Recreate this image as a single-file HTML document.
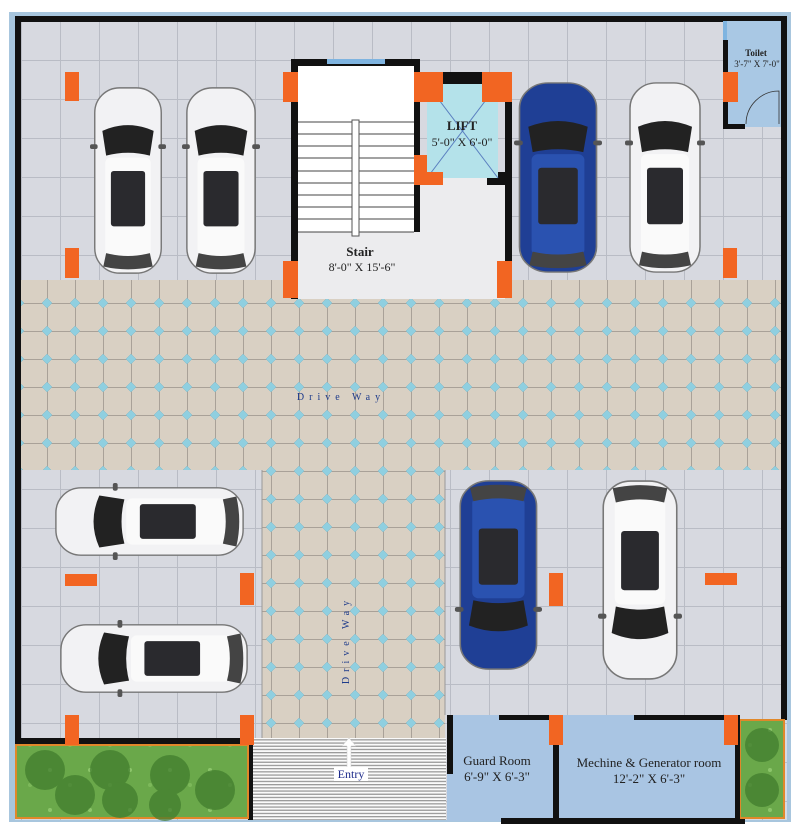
<!DOCTYPE html>
<html><head><meta charset="utf-8"><style>
html,body{margin:0;padding:0;background:#fff;}
svg{display:block;}
text{font-family:"Liberation Serif",serif;}
</style></head><body>
<svg width="800" height="834" viewBox="0 0 800 834" xmlns="http://www.w3.org/2000/svg">
<defs>
<pattern id="floor" x="21" y="21" width="39" height="39" patternUnits="userSpaceOnUse">
<rect width="39" height="39" fill="#d7d9e0"/>
<path d="M0 0.5H39M0.5 0V39" stroke="#b9bcc5" stroke-width="1"/>
</pattern>
<pattern id="oct" x="19" y="275" width="28" height="28" patternUnits="userSpaceOnUse">
<rect width="28" height="28" fill="#d9d0c3"/>
<path d="M0 0.5H28M0.5 0V28" stroke="#a9a198" stroke-width="1"/>
<path d="M0 -5L5 0L0 5L-5 0Z M28 -5L33 0L28 5L23 0Z M0 23L5 28L0 33L-5 28Z M28 23L33 28L28 33L23 28Z" fill="#8fcfe0" stroke="#7fb8c8" stroke-width="0.5"/>
</pattern>
<pattern id="stripes" x="0" y="0" width="4" height="3.2" patternUnits="userSpaceOnUse">
<rect width="4" height="3.2" fill="#fafafa"/>
<rect y="0" width="4" height="1.3" fill="#9a9a9a"/>
</pattern>
<pattern id="grass" width="40" height="40" patternUnits="userSpaceOnUse">
<rect width="40" height="40" fill="#6aa84a"/>
<circle cx="10" cy="10" r="2" fill="#8cc56a"/><circle cx="30" cy="25" r="2" fill="#7cb85a"/>
</pattern>
<symbol id="car" viewBox="0 0 80 200" preserveAspectRatio="none">
<rect x="5" y="3" width="70" height="194" rx="26" fill="var(--b)" stroke="#777" stroke-width="1.5"/>
<path d="M13 48 Q40 36 67 48 L63 74 Q40 68 17 74Z" fill="#222"/>
<rect x="16" y="76" width="48" height="104" rx="6" fill="var(--r)"/>
<rect x="22" y="90" width="36" height="58" rx="3" fill="#2a2a2e"/>
<path d="M17 176 Q40 182 63 176 L66 190 Q40 196 14 190Z" fill="#444"/>
<rect x="0" y="62" width="8" height="5" rx="2" fill="#555"/><rect x="72" y="62" width="8" height="5" rx="2" fill="#555"/>
</symbol>
</defs>

<!-- outer frame -->
<rect x="9" y="12" width="782" height="810" fill="#a8c6de"/>
<rect x="15" y="16" width="772" height="804" fill="url(#floor)"/>

<!-- drive ways -->
<rect x="21" y="280" width="760" height="190" fill="url(#oct)"/>
<rect x="262" y="470" width="183" height="268" fill="url(#oct)"/>
<line x1="262" y1="470" x2="262" y2="738" stroke="#999" stroke-width="1"/>
<line x1="445" y1="470" x2="445" y2="715" stroke="#999" stroke-width="1"/>

<!-- walls outer -->
<rect x="15" y="16" width="772" height="6" fill="#111"/>
<rect x="15" y="16" width="6" height="729" fill="#111"/>
<rect x="781" y="16" width="6" height="704" fill="#111"/>
<rect x="15" y="738" width="238" height="7" fill="#111"/>

<!-- stair -->
<rect x="291" y="59" width="129" height="240" fill="#111"/>
<rect x="298" y="66" width="116" height="233" fill="#fff"/>
<rect x="298" y="232" width="207" height="67" fill="#ececee"/>
<rect x="420" y="178" width="85" height="60" fill="#ececee"/>
<rect x="327" y="59" width="58" height="5" fill="#7fb4e0"/>
<g stroke="#444" stroke-width="1">
<line x1="298" y1="122" x2="414" y2="122"/><line x1="298" y1="134" x2="414" y2="134"/>
<line x1="298" y1="146" x2="414" y2="146"/><line x1="298" y1="158" x2="414" y2="158"/>
<line x1="298" y1="171" x2="414" y2="171"/><line x1="298" y1="183" x2="414" y2="183"/>
<line x1="298" y1="195" x2="414" y2="195"/><line x1="298" y1="207" x2="414" y2="207"/>
<line x1="298" y1="219" x2="414" y2="219"/><line x1="298" y1="232" x2="414" y2="232"/>
</g>
<rect x="352" y="120" width="7" height="116" fill="#fff" stroke="#555" stroke-width="1"/>
<text x="360" y="256" font-size="13" font-weight="bold" text-anchor="middle" fill="#222">Stair</text>
<text x="362" y="271" font-size="12" text-anchor="middle" fill="#222">8'-0" X 15'-6"</text>

<!-- lift -->
<rect x="414" y="72" width="98" height="12" fill="#111"/>
<rect x="505" y="72" width="7" height="190" fill="#111"/>
<rect x="487" y="172" width="20" height="13" fill="#111"/>
<rect x="427" y="84" width="71" height="94" fill="#b4e2ea"/>
<line x1="427" y1="84" x2="498" y2="178" stroke="#5a7fc0" stroke-width="1"/>
<line x1="498" y1="84" x2="427" y2="178" stroke="#5a7fc0" stroke-width="1"/>
<text x="462" y="130" font-size="13" font-weight="bold" text-anchor="middle" fill="#222">LIFT</text>
<text x="462" y="146" font-size="12" text-anchor="middle" fill="#222">5'-0" X 6'-0"</text>

<!-- toilet -->
<rect x="727" y="21" width="54" height="106" fill="#a9c8e4"/>
<rect x="723" y="40" width="5" height="89" fill="#111"/>
<rect x="723" y="21" width="4" height="19" fill="#7fb4e0"/>
<rect x="723" y="124" width="22" height="5" fill="#111"/>
<path d="M746 124 A33 33 0 0 1 779 91 L779 124" fill="none" stroke="#333" stroke-width="0.8"/>
<text x="756" y="56" font-size="9" font-weight="bold" text-anchor="middle" fill="#222">Toilet</text>
<text x="757" y="67" font-size="9" text-anchor="middle" fill="#222">3'-7" X 7'-0"</text>

<!-- cars -->
<use href="#car" x="90" y="85" width="76" height="191" style="--b:#f2f2f4;--r:#fafafa"/>
<use href="#car" x="182" y="85" width="78" height="191" style="--b:#f2f2f4;--r:#fafafa"/>
<use href="#car" x="514" y="80" width="88" height="195" style="--b:#1f3f95;--r:#2a52b0"/>
<use href="#car" x="625" y="80" width="80" height="195" style="--b:#f2f2f4;--r:#fafafa"/>
<use href="#car" width="80" height="200" transform="translate(53,560) rotate(-90) scale(0.9625,0.965)" style="--b:#f2f2f4;--r:#fafafa"/>
<use href="#car" width="80" height="200" transform="translate(58,697) rotate(-90) scale(0.9625,0.96)" style="--b:#f2f2f4;--r:#fafafa"/>
<use href="#car" width="80" height="200" transform="translate(542,672) rotate(180) scale(1.09,0.97)" style="--b:#1f3f95;--r:#2a52b0"/>
<use href="#car" width="80" height="200" transform="translate(682,682) rotate(180) scale(1.05,1.02)" style="--b:#f2f2f4;--r:#fafafa"/>

<!-- drive way labels -->
<text x="341" y="400" font-size="10" text-anchor="middle" fill="#1d3a8a" letter-spacing="5">Drive Way</text>
<text transform="translate(349,640) rotate(-90)" font-size="10" text-anchor="middle" fill="#1d3a8a" letter-spacing="5">Drive Way</text>

<!-- entry -->
<rect x="253" y="738" width="193" height="82" fill="url(#stripes)"/>
<rect x="248" y="743" width="5" height="77" fill="#111"/>
<path d="M349 738 L356 746 L351 746 L351 770 L347 770 L347 746 L342 746Z" fill="#fff" stroke="#ccc" stroke-width="0.5"/>
<rect x="334" y="767" width="34" height="14" fill="#fff"/>
<text x="351" y="778" font-size="12" text-anchor="middle" fill="#1d2a8a">Entry</text>

<!-- guard & mech rooms -->
<rect x="447" y="715" width="291" height="106" fill="#a9c5e3"/>
<rect x="447" y="715" width="6" height="59" fill="#111"/>
<rect x="499" y="715" width="54" height="5" fill="#111"/>
<rect x="634" y="715" width="104" height="5" fill="#111"/>
<rect x="553" y="715" width="6" height="108" fill="#111"/>
<rect x="501" y="818" width="244" height="6" fill="#111"/>
<text x="497" y="765" font-size="13" text-anchor="middle" fill="#222">Guard Room</text>
<text x="497" y="781" font-size="13" text-anchor="middle" fill="#222">6'-9" X 6'-3"</text>
<text x="649" y="767" font-size="13" text-anchor="middle" fill="#222">Mechine &amp; Generator room</text>
<text x="649" y="783" font-size="13" text-anchor="middle" fill="#222">12'-2" X 6'-3"</text>

<!-- gardens -->
<rect x="16" y="745" width="232" height="73" fill="url(#grass)" stroke="#e0882a" stroke-width="2"/>
<g fill="#3f7a2c" opacity="0.7">
<circle cx="45" cy="770" r="20"/><circle cx="75" cy="795" r="20"/><circle cx="110" cy="770" r="20"/><circle cx="120" cy="800" r="18"/><circle cx="170" cy="775" r="20"/><circle cx="165" cy="805" r="16"/><circle cx="215" cy="790" r="20"/>
</g>
<rect x="740" y="720" width="44" height="98" fill="url(#grass)" stroke="#e0882a" stroke-width="2"/>
<g fill="#3f7a2c" opacity="0.7"><circle cx="762" cy="745" r="17"/><circle cx="762" cy="790" r="17"/></g>
<rect x="735" y="715" width="5" height="108" fill="#111"/>

<!-- pillars -->
<g fill="#f26522">
<rect x="65" y="72" width="14" height="29"/><rect x="65" y="248" width="14" height="30"/>
<rect x="283" y="72" width="15" height="30"/><rect x="283" y="261" width="15" height="37"/>
<rect x="414" y="72" width="29" height="30"/><rect x="482" y="72" width="30" height="30"/>
<rect x="414" y="155" width="13" height="30"/><rect x="427" y="172" width="16" height="13"/>
<rect x="497" y="261" width="15" height="37"/>
<rect x="723" y="72" width="15" height="30"/><rect x="723" y="248" width="14" height="30"/>
<rect x="65" y="574" width="32" height="12"/><rect x="240" y="573" width="14" height="32"/>
<rect x="549" y="573" width="14" height="33"/><rect x="705" y="573" width="32" height="12"/>
<rect x="65" y="715" width="14" height="30"/><rect x="240" y="715" width="14" height="30"/>
<rect x="549" y="715" width="14" height="30"/><rect x="724" y="715" width="14" height="30"/>
</g>
</svg>
</body></html>
